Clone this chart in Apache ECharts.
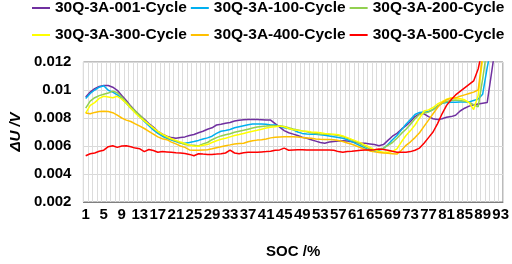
<!DOCTYPE html>
<html>
<head>
<meta charset="utf-8">
<script src="https://cdn.jsdelivr.net/npm/echarts@6/dist/echarts.min.js"></script>
<style>
html, body { margin: 0; padding: 0; background: #fff; }
#graph { width: 512px; height: 264px; }
</style>
</head>
<body>
<div id="graph"></div>
<script>
// SOC categories 1..93
var soc = [];
for (var i = 1; i <= 93; i++) soc.push(String(i));

var names = ['30Q-3A-001-Cycle', '30Q-3A-100-Cycle', '30Q-3A-200-Cycle',
             '30Q-3A-300-Cycle', '30Q-3A-400-Cycle', '30Q-3A-500-Cycle'];
var colors = ['#7030a0', '#00b0f0', '#92d050', '#ffff00', '#ffc000', '#ff0000'];

var cyc001 = [
  0.00950,0.00985,0.01010,0.01025,0.01032,0.01032,0.01020,0.00998,0.00960,0.00925,
  0.00885,0.00850,0.00820,0.00790,0.00760,0.00735,0.00705,0.00685,0.00670,0.00660,
  0.00655,0.00660,0.00665,0.00675,0.00682,0.00695,0.00705,0.00720,0.00730,0.00750,
  0.00755,0.00762,0.00768,0.00778,0.00784,0.00788,0.00790,0.00790,0.00790,0.00788,
  0.00785,0.00785,0.00760,0.00735,0.00710,0.00695,0.00685,0.00675,0.00662,0.00655,
  0.00645,0.00635,0.00625,0.00620,0.00628,0.00632,0.00635,0.00638,0.00635,0.00630,
  0.00625,0.00620,0.00620,0.00615,0.00610,0.00602,0.00610,0.00640,0.00670,0.00690,
  0.00720,0.00745,0.00775,0.00810,0.00830,0.00830,0.00810,0.00795,0.00790,0.00795,
  0.00805,0.00810,0.00820,0.00850,0.00870,0.00885,0.00895,0.00900,0.00905,0.00910,
  0.01130,0.01350,0.01550];
var cyc100 = [
  0.00940,0.00975,0.01000,0.01020,0.01030,0.00998,0.00985,0.00965,0.00940,0.00905,
  0.00870,0.00840,0.00810,0.00775,0.00745,0.00715,0.00690,0.00670,0.00655,0.00643,
  0.00632,0.00622,0.00620,0.00625,0.00632,0.00640,0.00650,0.00658,0.00670,0.00690,
  0.00705,0.00710,0.00718,0.00730,0.00738,0.00745,0.00752,0.00757,0.00758,0.00757,
  0.00755,0.00750,0.00750,0.00740,0.00730,0.00725,0.00715,0.00700,0.00690,0.00685,
  0.00684,0.00684,0.00680,0.00677,0.00672,0.00666,0.00660,0.00655,0.00645,0.00631,
  0.00615,0.00600,0.00585,0.00568,0.00562,0.00570,0.00582,0.00610,0.00645,0.00675,
  0.00715,0.00755,0.00790,0.00825,0.00840,0.00842,0.00846,0.00860,0.00885,0.00905,
  0.00910,0.00912,0.00912,0.00915,0.00915,0.00915,0.00925,0.00935,0.00970,0.01160,
  0.01320,0.01450,0.01600];
var cyc200 = [
  0.00870,0.00920,0.00945,0.00960,0.00970,0.00978,0.00992,0.00980,0.00950,0.00915,
  0.00880,0.00850,0.00820,0.00785,0.00755,0.00725,0.00700,0.00680,0.00662,0.00648,
  0.00635,0.00622,0.00610,0.00605,0.00605,0.00600,0.00615,0.00625,0.00645,0.00660,
  0.00672,0.00680,0.00688,0.00698,0.00705,0.00712,0.00720,0.00728,0.00735,0.00740,
  0.00742,0.00745,0.00745,0.00745,0.00740,0.00730,0.00722,0.00715,0.00708,0.00702,
  0.00695,0.00690,0.00686,0.00684,0.00684,0.00680,0.00675,0.00668,0.00655,0.00643,
  0.00628,0.00612,0.00595,0.00578,0.00572,0.00572,0.00585,0.00605,0.00625,0.00655,
  0.00690,0.00720,0.00755,0.00795,0.00825,0.00835,0.00842,0.00860,0.00885,0.00905,
  0.00918,0.00925,0.00928,0.00925,0.00920,0.00912,0.00895,0.00880,0.01080,0.01300,
  0.01450,0.01600,0.01700];
var cyc300 = [
  0.00835,0.00890,0.00910,0.00940,0.00955,0.00950,0.00945,0.00955,0.00935,0.00905,
  0.00870,0.00835,0.00805,0.00780,0.00755,0.00730,0.00705,0.00685,0.00668,0.00652,
  0.00640,0.00628,0.00618,0.00605,0.00600,0.00598,0.00605,0.00610,0.00625,0.00638,
  0.00648,0.00655,0.00665,0.00675,0.00682,0.00690,0.00698,0.00705,0.00712,0.00720,
  0.00728,0.00734,0.00738,0.00742,0.00738,0.00725,0.00716,0.00712,0.00708,0.00705,
  0.00700,0.00698,0.00695,0.00690,0.00686,0.00684,0.00680,0.00672,0.00660,0.00647,
  0.00635,0.00622,0.00605,0.00590,0.00572,0.00560,0.00556,0.00556,0.00562,0.00580,
  0.00630,0.00675,0.00710,0.00750,0.00800,0.00850,0.00858,0.00875,0.00900,0.00917,
  0.00935,0.00944,0.00940,0.00938,0.00930,0.00910,0.00860,0.00960,0.01230,0.01400,
  0.01550,0.01700,0.01800];
var cyc400 = [
  0.00835,0.00830,0.00840,0.00846,0.00848,0.00846,0.00838,0.00820,0.00800,0.00785,
  0.00775,0.00758,0.00742,0.00725,0.00705,0.00685,0.00665,0.00652,0.00645,0.00628,
  0.00615,0.00600,0.00590,0.00572,0.00570,0.00570,0.00572,0.00574,0.00580,0.00588,
  0.00595,0.00602,0.00608,0.00615,0.00618,0.00620,0.00630,0.00638,0.00642,0.00645,
  0.00650,0.00658,0.00662,0.00665,0.00666,0.00666,0.00666,0.00664,0.00660,0.00658,
  0.00655,0.00650,0.00648,0.00647,0.00647,0.00645,0.00640,0.00632,0.00622,0.00612,
  0.00600,0.00588,0.00575,0.00565,0.00558,0.00553,0.00550,0.00548,0.00545,0.00542,
  0.00570,0.00605,0.00630,0.00660,0.00695,0.00740,0.00785,0.00830,0.00875,0.00910,
  0.00930,0.00940,0.00944,0.00955,0.00965,0.00975,0.00985,0.01000,0.01250,0.01400,
  0.01550,0.01700,0.01800];
var cyc500 = [
  0.00530,0.00545,0.00550,0.00562,0.00570,0.00595,0.00602,0.00590,0.00600,0.00602,
  0.00595,0.00585,0.00580,0.00560,0.00575,0.00568,0.00555,0.00560,0.00558,0.00555,
  0.00552,0.00550,0.00547,0.00540,0.00530,0.00545,0.00542,0.00540,0.00540,0.00542,
  0.00545,0.00550,0.00570,0.00550,0.00545,0.00552,0.00555,0.00556,0.00556,0.00558,
  0.00560,0.00563,0.00570,0.00572,0.00585,0.00570,0.00572,0.00574,0.00574,0.00572,
  0.00572,0.00572,0.00572,0.00572,0.00572,0.00570,0.00560,0.00556,0.00560,0.00562,
  0.00566,0.00570,0.00572,0.00572,0.00574,0.00578,0.00575,0.00570,0.00562,0.00556,
  0.00556,0.00556,0.00560,0.00570,0.00585,0.00620,0.00660,0.00700,0.00760,0.00830,
  0.00890,0.00930,0.00965,0.00990,0.01015,0.01040,0.01065,0.01150,0.01300,0.01450,
  0.01600,0.01700,0.01800];

var allData = [cyc001, cyc100, cyc200, cyc300, cyc400, cyc500];

var FONT = '"Liberation Sans", Arial, sans-serif';
var txt = { fontFamily: FONT, fontSize: 15.5, fontWeight: 'bold', color: '#000' };

var chart = echarts.init(document.getElementById('graph'));

var series = [];
for (var k = 0; k < names.length; k++) {
  series.push({
    name: names[k],
    type: 'line',
    data: allData[k],
    symbol: 'none',
    clip: true,
    lineStyle: { width: 1.5, color: colors[k] },
    itemStyle: { color: colors[k] }
  });
}

function legendRow(list, top) {
  return {
    data: list,
    top: top,
    left: 32,
    padding: 0,
    icon: 'rect',
    itemWidth: 18,
    itemHeight: 2,
    itemGap: 4,
    textStyle: txt
  };
}

chart.setOption({
  animation: false,
  backgroundColor: '#fff',
  color: colors,
  legend: [legendRow(names.slice(0, 3), 0), legendRow(names.slice(3), 27)],
  grid: {
    left: 75, right: 7, top: 62, bottom: 56,
    show: true, borderColor: '#7f7f7f', borderWidth: 1
  },
  xAxis: {
    type: 'category',
    data: soc,
    boundaryGap: true,
    name: 'SOC /%',
    nameLocation: 'middle',
    nameGap: 42,
    nameTextStyle: { fontFamily: FONT, fontSize: 15, fontWeight: 'bold', color: '#000' },
    axisLine: { lineStyle: { color: '#7f7f7f' } },
    axisTick: { inside: true, length: 3, interval: 0, lineStyle: { color: '#7f7f7f' } },
    axisLabel: { interval: 3, margin: 5, fontFamily: FONT, fontSize: 15, fontWeight: 'bold', color: '#000' },
    splitLine: { show: true, interval: 0, lineStyle: { color: '#dcdcdc', width: 1 } }
  },
  yAxis: {
    type: 'value',
    min: 0.002,
    max: 0.012,
    interval: 0.002,
    name: 'ΔU /V',
    nameLocation: 'middle',
    nameRotate: 90,
    nameGap: 55,
    nameTextStyle: { fontFamily: FONT, fontSize: 15, fontWeight: 'bold', fontStyle: 'italic', color: '#000' },
    axisLine: { show: false },
    axisTick: { show: false },
    axisLabel: { margin: 12, fontFamily: FONT, fontSize: 15, fontWeight: 'bold', color: '#000' },
    splitLine: { show: true, lineStyle: { color: '#d9d9d9', width: 1 } }
  },
  series: series
});
</script>
</body>
</html>
